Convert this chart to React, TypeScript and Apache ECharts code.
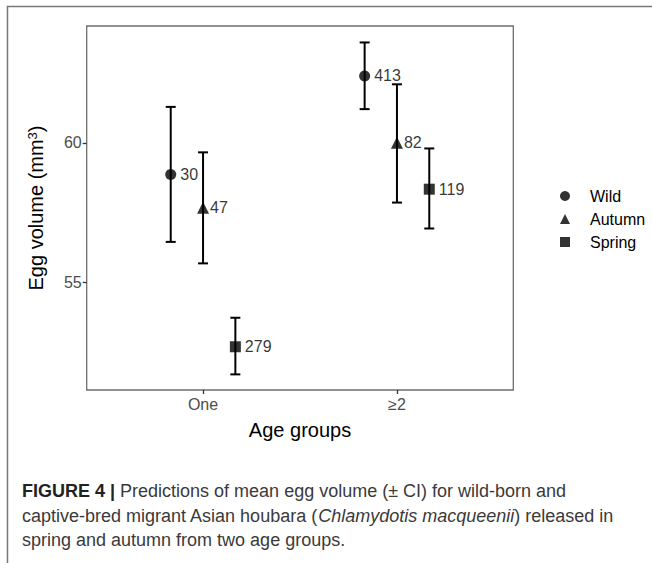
import React, { useEffect, useRef } from "react";
import * as echarts from "echarts";

const groups = ["One", "≥2"];
const groupPos = [1, 2];
const seriesNames = ["Wild", "Autumn", "Spring"];
const dodge = [-1 / 6, 0, 1 / 6];
const symbols = ["circle", "triangle", "rect"];

const wildMean = [58.87, 62.4];
const wildLo = [56.45, 61.21];
const wildHi = [61.29, 63.6];
const wildN = [30, 413];

const autumnMean = [57.67, 60.0];
const autumnLo = [55.68, 57.86];
const autumnHi = [59.66, 62.1];
const autumnN = [47, 82];

const springMean = [52.69, 58.34];
const springLo = [51.7, 56.93];
const springHi = [53.73, 59.8];
const springN = [279, 119];

const yTicks = [55, 60];

const means = [wildMean, autumnMean, springMean];
const los = [wildLo, autumnLo, springLo];
const his = [wildHi, autumnHi, springHi];
const ns = [wildN, autumnN, springN];

export default function App() {
  const ref = useRef<HTMLDivElement>(null);
  useEffect(() => {
    if (!ref.current) return;
    const chart = echarts.init(ref.current, undefined, { renderer: "svg" });
    const font = "Liberation Sans, Arial, sans-serif";
    const tickRich = { t: { fontSize: 16, color: "#4d4d4d", fontFamily: font } };

    const scatterSeries = seriesNames.map((name, s) => ({
      name,
      type: "scatter",
      symbol: symbols[s],
      symbolSize: s === 1 ? 12 : 11,
      itemStyle: { color: "#000" },
      z: 3,
      data: groupPos.map((g, i) => ({
        value: [g + dodge[s], means[s][i]],
        n: ns[s][i],
      })),
      label: {
        show: true,
        position: "right",
        distance: s === 1 ? 1 : 4,
        color: "#000",
        fontSize: 16,
        fontFamily: font,
        formatter: (p: any) => String(p.data.n),
      },
    }));

    const errData: number[][] = [];
    seriesNames.forEach((_, s) => {
      groupPos.forEach((g, i) => {
        errData.push([g + dodge[s], los[s][i], his[s][i]]);
      });
    });

    const errSeries = {
      type: "custom",
      name: "ci",
      z: 2,
      data: errData,
      encode: { x: 0, y: [1, 2] },
      renderItem: (params: any, api: any) => {
        const x = api.value(0);
        const lo = api.coord([x, api.value(1)]);
        const hi = api.coord([x, api.value(2)]);
        const w = 5;
        const style = { stroke: "#000", lineWidth: 2 };
        return {
          type: "group",
          children: [
            { type: "line", shape: { x1: lo[0], y1: lo[1], x2: hi[0], y2: hi[1] }, style },
            { type: "line", shape: { x1: hi[0] - w, y1: hi[1], x2: hi[0] + w, y2: hi[1] }, style },
            { type: "line", shape: { x1: lo[0] - w, y1: lo[1], x2: lo[0] + w, y2: lo[1] }, style },
          ],
        };
      },
    };

    const option: any = {
      animation: false,
      backgroundColor: "#fff",
      textStyle: { fontFamily: font },
      grid: {
        left: 86.7,
        top: 26,
        right: 138.7,
        bottom: 173,
        show: true,
        borderColor: "#6e6e6e",
        borderWidth: 1.3,
        backgroundColor: "transparent",
      },
      xAxis: {
        type: "value",
        min: 0.4,
        max: 2.6,
        name: "Age groups",
        nameLocation: "middle",
        nameGap: 30,
        nameTextStyle: { fontSize: 20, color: "#000", fontFamily: font },
        axisLine: { show: false },
        splitLine: { show: false },
        axisTick: { show: true, length: 4, customValues: groupPos, lineStyle: { color: "#333", width: 1.3 } },
        axisLabel: {
          customValues: groupPos,
          fontSize: 16,
          color: "#4d4d4d",
          margin: 6,
          fontFamily: font,
          rich: tickRich,
          formatter: (v: number) => "{t|" + (groups[groupPos.indexOf(Math.round(v))] ?? "") + "}",
        },
      },
      yAxis: {
        type: "value",
        min: 51.14,
        max: 64.19,
        name: "Egg volume (mm{sup|3})",
        nameLocation: "middle",
        nameRotate: 90,
        nameGap: 40,
        nameTextStyle: {
          fontSize: 20,
          color: "#000",
          fontFamily: font,
          rich: { sup: { fontSize: 13, verticalAlign: "top", padding: [0, 0, 8, 0], color: "#000", fontFamily: font } },
        },
        axisLine: { show: false },
        splitLine: { show: false },
        axisTick: { show: true, length: 4, customValues: yTicks, lineStyle: { color: "#333", width: 1.3 } },
        axisLabel: {
          customValues: yTicks,
          fontSize: 16,
          color: "#4d4d4d",
          margin: 5,
          fontFamily: font,
          rich: tickRich,
          formatter: (v: number) => "{t|" + v + "}",
        },
      },
      legend: {
        data: seriesNames,
        orient: "vertical",
        left: 555,
        top: 183,
        itemWidth: 10,
        itemHeight: 10,
        itemGap: 7,
        itemStyle: { color: "#000" },
        textStyle: { fontSize: 16, color: "#000", fontFamily: font, padding: [0, 0, 0, 15], lineHeight: 16 },
      },
      series: [errSeries, ...scatterSeries],
      graphic: [
        {
          type: "polyline",
          shape: { points: [[7.5, 563], [7.5, 6.5], [652, 6.5]] },
          style: { stroke: "#777", lineWidth: 1.5, fill: null },
          silent: true,
        },
        {
          type: "text",
          left: 22,
          top: 482,
          style: {
            text: "{b|FIGURE 4 |} Predictions of mean egg volume (± CI) for wild-born and",
            fontSize: 18,
            fontFamily: font,
            fill: "#3a3a3a",
            rich: { b: { fontWeight: "bold", fontSize: 18, fill: "#222", fontFamily: font } },
          },
        },
        {
          type: "text",
          left: 22,
          top: 507,
          style: {
            text: "captive-bred migrant Asian houbara ({i|Chlamydotis macqueenii}) released in",
            fontSize: 18,
            fontFamily: font,
            fill: "#3a3a3a",
            rich: { i: { fontStyle: "italic", fontSize: 18, fill: "#3a3a3a", fontFamily: font } },
          },
        },
        {
          type: "text",
          left: 22,
          top: 531,
          style: {
            text: "spring and autumn from two age groups.",
            fontSize: 18,
            fontFamily: font,
            fill: "#3a3a3a",
          },
        },
      ],
    };
    chart.setOption(option);
    return () => chart.dispose();
  }, []);
  return <div ref={ref} style={{ position: "fixed", left: 0, top: 0, width: 652, height: 563 }} />;
}
